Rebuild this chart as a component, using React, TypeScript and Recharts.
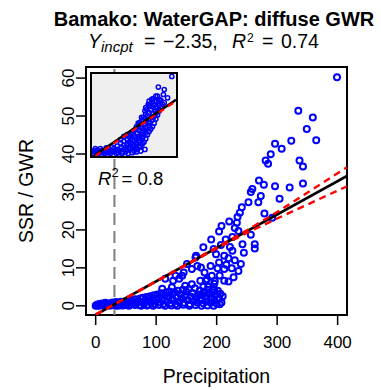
import React from "react";
import { ScatterChart, Scatter, XAxis, YAxis, ReferenceLine, ReferenceArea, Label } from "recharts";

const xTicks = [0, 100, 200, 300, 400];
const yTicks = [0, 10, 20, 30, 40, 50, 60];
const xDomain = [-16, 415.5];
const yDomain = [-2.42, 62.92];

// dry-season band: precipitation vs. SSR/GWR, near zero
const lowBand: [number, number][] = [
  [0, 0], [2, 0.3], [4, 0.1], [6, 0.5], [8, 0.2], [10, 0.6], [12, 0.1], [14, 0.4], [16, 0.8], [18, 0.2],
  [20, 0.5], [22, 0.1], [24, 0.7], [26, 0.3], [28, 0.9], [30, 0.2], [32, 0.6], [34, 1.0], [36, 0.3], [38, 0.8],
  [40, 0.1], [42, 1.1], [44, 0.5], [46, 0.9], [48, 0.2], [50, 1.3], [52, 0.6], [54, 1.0], [56, 0.3], [58, 1.5],
  [60, 0.8], [62, 1.2], [64, 0.4], [66, 1.7], [68, 0.9], [70, 1.4], [72, 0.2], [74, 1.9], [76, 1.0], [78, 2.1],
  [80, 0.6], [82, 1.6], [84, 2.3], [86, 0.3], [88, 1.2], [90, 2.5], [92, 0.8], [94, 1.9], [96, 2.8], [98, 0.4],
  [100, 1.5], [102, 3.0], [104, 2.2], [106, 0.9], [108, 3.3], [110, 1.8], [112, 0.5], [114, 2.7], [116, 3.5], [118, 1.2],
  [120, 2.3], [122, 3.8], [124, 0.7], [126, 2.9], [128, 1.6], [130, 3.6], [132, 0.4], [134, 2.2], [136, 4.0], [138, 1.1],
  [140, 3.1], [142, 2.0], [144, 4.2], [146, 0.8], [148, 2.6], [150, 3.7], [152, 1.5], [154, 4.4], [156, 0.5], [158, 2.4],
  [160, 3.4], [162, 1.3], [164, 4.6], [166, 2.1], [168, 0.9], [170, 3.0], [172, 4.0], [174, 1.8], [176, 2.8], [178, 0.7],
  [180, 3.8], [182, 2.4], [184, 1.2], [186, 4.2], [188, 3.1], [190, 0.8], [192, 2.2], [194, 3.6], [196, 1.5], [198, 2.8],
  [200, 0.6], [202, 4.0], [204, 1.9], [206, 3.2], [208, 0.9], [210, 2.5],
  [5, 0], [15, 0], [25, 0.1], [35, 0], [45, 0.1], [55, 0], [65, 0.2], [75, 0], [85, 0.1], [95, 0],
  [105, 0.2], [115, 0], [125, 0.1], [135, 0], [145, 0.3], [155, 0], [165, 0.2], [175, 0], [185, 0.1], [195, 0], [205, 0.4],
];

// wet-season points that rise with precipitation
const highBand: [number, number][] = [
  [110, 4.5], [115, 7.1], [126, 4.9], [128, 6.6], [132, 7.9], [138, 7.1], [143, 7.9], [145.5, 8.8], [148, 5.3], [151, 11],
  [159, 9.7], [159, 5.7], [165, 12.7], [166, 13.2], [168, 10.5], [173, 6.6], [174, 10.1], [178, 15.4], [178, 5], [178, 3.4],
  [180, 8.8], [182, 6.6], [184, 7], [186, 5], [190, 10.5], [191, 17.5], [192, 7.9], [193, 4.5], [195, 15], [196, 5.8],
  [196, 4.2], [197, 6.5], [199, 13.6], [201.5, 9.9], [204, 19.6], [204, 11.4], [205, 8], [207, 16], [208, 21], [212.5, 13.2],
  [212.5, 9.7], [212.5, 6.6], [215, 17.5], [216, 10.8], [219.6, 12.5], [219.6, 6.4], [220.8, 22.2], [222, 15.5], [225, 9.9], [226, 18.1],
  [226, 14.5], [228, 7.5], [230, 12], [230, 20.5], [233.4, 21.9], [234.5, 23.4], [236, 19.7], [236, 9.2], [238.4, 24.5], [240, 11],
  [241.6, 26], [242.7, 16.2], [245, 14], [252.6, 27.3], [256.5, 30], [256.5, 18.7], [259, 30.8], [263, 16.2], [263, 15.1], [269, 27.3],
  [270, 33], [273, 28.9], [278, 31.9], [279, 24.3], [281, 38.3], [285, 37.4], [289.4, 39.9], [292, 23.2], [296.5, 31.5], [296.5, 42.7],
  [304, 28.2], [307.5, 41.4], [320.7, 31.2], [323.4, 43.5], [335, 51.4], [337, 38.3], [342.7, 36.7], [342.7, 32.2], [349, 46.6], [359, 49.6],
  [364.6, 43.6], [399, 60.2],
];

// fitted line (Y intercept -2.35) and the two dashed red fits
const fitLine: [number, number][] = [[0, -2.35], [415.5, 34.2]];
const redUpper: [number, number][] = [[0, -2.3], [100, 6.5], [200, 15.4], [250, 19.9], [300, 24.7], [415.5, 36.5]];
const redLower: [number, number][] = [[0, -2.4], [100, 6.4], [200, 15.1], [250, 19.2], [300, 23.0], [415.5, 31.5]];
const thresholdPrecip = 31;

// inset panel (scaled 0..100 on both axes)
const insetPoints: [number, number][] = [
  [1, 6], [3, 5], [5, 7], [7, 5], [9, 6], [11, 4], [12, 7], [14, 5], [16, 6], [18, 4], [19, 8], [21, 5], [23, 7], [25, 5],
  [26, 9], [28, 6], [30, 8], [31, 4], [33, 7], [35, 10], [36, 5], [38, 8], [40, 11], [40, 5], [42, 7], [2, 3], [8, 3],
  [15, 3], [22, 3], [29, 3], [36, 3], [43, 3], [48, 4], [53, 5], [58, 6], [63, 8], [4, 9], [10, 9], [17, 10], [24, 11],
  [30, 12], [34, 16], [34, 20], [38, 13], [38, 18], [38, 24], [42, 14], [42, 20], [42, 26], [44, 10], [44, 17], [44, 24],
  [46, 9], [46, 15], [46, 21], [46, 27], [48, 12], [48, 19], [48, 29], [50, 6], [50, 12], [50, 18], [50, 25], [50, 31],
  [52, 10], [52, 16], [52, 23], [52, 33], [54, 8], [53, 14], [55, 21], [54, 28], [53, 36], [55, 40], [56, 11], [56, 17],
  [56, 24], [56, 31], [56, 38], [58, 12], [57, 19], [59, 26], [58, 34], [57, 41], [59, 47], [60, 15], [60, 22], [60, 29],
  [60, 36], [60, 44], [62, 17], [61, 24], [63, 31], [62, 39], [61, 47], [63, 55], [64, 21], [64, 28], [64, 35], [64, 43],
  [64, 51], [64, 59], [66, 26], [65, 33], [67, 41], [66, 49], [65, 57], [67, 63], [68, 30], [68, 37], [68, 45], [68, 53],
  [68, 61], [68, 67], [70, 33], [69, 40], [71, 48], [70, 56], [69, 63], [71, 69], [72, 36], [72, 44], [72, 52], [72, 60],
  [72, 67], [74, 40], [73, 47], [75, 55], [74, 62], [73, 70], [76, 45], [76, 52], [76, 60], [76, 67], [76, 73],
  [78, 50], [77, 58], [79, 66], [78, 73], [80, 55], [80, 62], [80, 69], [82, 60], [82, 68], [84, 63], [86, 65],
  [79, 84], [86, 81], [85, 75], [90, 71], [95, 97],
];
const insetFit: [number, number][] = [[2, 0], [100, 68.6]];
const insetRed: [number, number][] = [[4, 0], [100, 67.2]];

const toXY = (pts: [number, number][]) => pts.map(([x, y]) => ({ x, y }));

const FONT = "'Liberation Sans', Arial, Helvetica, sans-serif";

const XTick = (props: any) => (
  <text x={props.x} y={348} textAnchor="middle" fontSize={17} fontFamily={FONT} fill="#000">
    {props.payload.value}
  </text>
);

const YTick = (props: any) => (
  <text
    x={74}
    y={props.y}
    transform={`rotate(-90, 74, ${props.y})`}
    textAnchor="middle"
    fontSize={17}
    fontFamily={FONT}
    fill="#000"
  >
    {props.payload.value}
  </text>
);

const ring = (r: number, w: number) => (p: any) => (
  <circle cx={p.cx} cy={p.cy} r={r} fill="none" stroke="#0000ff" strokeWidth={w} />
);
const noDot = () => <g />;

export default function App() {
  return (
    <div style={{ position: "relative", width: 381, height: 390, background: "#fff", fontFamily: FONT }}>
      <style>{"body{margin:0}"}</style>
      <ScatterChart width={381} height={390} margin={{ top: 67, right: 34, bottom: 0, left: 0 }}>
        <XAxis
          type="number"
          dataKey="x"
          domain={xDomain}
          ticks={xTicks}
          allowDataOverflow
          axisLine={false}
          tickSize={10}
          tickLine={{ stroke: "#000", strokeWidth: 1.5 }}
          tick={<XTick />}
          height={75}
        >
          <Label
            content={() => (
              <text x={216.5} y={383} textAnchor="middle" fontSize={19.5} fontFamily={FONT} fill="#000">
                Precipitation
              </text>
            )}
          />
        </XAxis>
        <YAxis
          type="number"
          dataKey="y"
          domain={yDomain}
          ticks={yTicks}
          allowDataOverflow
          axisLine={false}
          tickSize={10}
          tickLine={{ stroke: "#000", strokeWidth: 1.5 }}
          tick={<YTick />}
          width={86}
        >
          <Label
            content={() => (
              <text
                x={33}
                y={191}
                transform="rotate(-90, 33, 191)"
                textAnchor="middle"
                fontSize={19.5}
                fontFamily={FONT}
                fill="#000"
              >
                SSR / GWR
              </text>
            )}
          />
        </YAxis>
        <Scatter data={toXY(lowBand)} shape={ring(3, 2)} isAnimationActive={false} />
        <Scatter data={toXY(highBand)} shape={ring(3, 2)} isAnimationActive={false} />
        <ReferenceLine x={thresholdPrecip} stroke="#7f7f7f" strokeWidth={2} strokeDasharray="12 6" />
        <Scatter
          data={toXY(fitLine)}
          line={{ stroke: "#000", strokeWidth: 2.6 }}
          shape={noDot}
          isAnimationActive={false}
        />
        <Scatter
          data={toXY(redUpper)}
          line={{ stroke: "#ff0000", strokeWidth: 2.4, strokeDasharray: "7 5" }}
          shape={noDot}
          isAnimationActive={false}
        />
        <Scatter
          data={toXY(redLower)}
          line={{ stroke: "#ff0000", strokeWidth: 2.4, strokeDasharray: "7 5" }}
          shape={noDot}
          isAnimationActive={false}
        />
        <ReferenceArea
          x1={xDomain[0]}
          x2={xDomain[1]}
          y1={yDomain[0]}
          y2={yDomain[1]}
          fill="none"
          fillOpacity={0}
          stroke="#000"
          strokeWidth={2}
        />
      </ScatterChart>

      <div
        style={{
          position: "absolute",
          left: 90,
          top: 72,
          width: 88,
          height: 86,
          boxSizing: "border-box",
          border: "2px solid #000",
          background: "#efefef",
        }}
      >
        <ScatterChart width={84} height={82} margin={{ top: 0, right: 0, bottom: 0, left: 0 }}>
          <XAxis type="number" dataKey="x" domain={[0, 100]} allowDataOverflow hide />
          <YAxis type="number" dataKey="y" domain={[0, 100]} allowDataOverflow hide />
          <Scatter data={toXY(insetPoints)} shape={ring(2.1, 1.5)} isAnimationActive={false} />
          <Scatter
            data={toXY(insetFit)}
            line={{ stroke: "#000", strokeWidth: 2.4 }}
            shape={noDot}
            isAnimationActive={false}
          />
          <Scatter
            data={toXY(insetRed)}
            line={{ stroke: "#ff0000", strokeWidth: 2.4, strokeDasharray: "6 5" }}
            shape={noDot}
            isAnimationActive={false}
          />
        </ScatterChart>
      </div>

      <svg
        width={381}
        height={390}
        style={{ position: "absolute", left: 0, top: 0, pointerEvents: "none" }}
      >
        <text x={214} y={26} textAnchor="middle" fontSize={20} fontWeight="bold" fontFamily={FONT} fill="#000">
          Bamako: WaterGAP: diffuse GWR
        </text>
        <g fontFamily={FONT} fill="#000">
          <text x={88} y={48} fontSize={19.5} fontStyle="italic">Y</text>
          <text x={101} y={52} fontSize={15} fontStyle="italic">incpt</text>
          <text x={144} y={48} fontSize={19.5}>=</text>
          <text x={163} y={48} fontSize={19.5}>−2.35,</text>
          <text x={232} y={48} fontSize={19.5} fontStyle="italic">R</text>
          <text x={247} y={42} fontSize={12}>2</text>
          <text x={262} y={48} fontSize={19.5}>=</text>
          <text x={281} y={48} fontSize={19.5}>0.74</text>
        </g>
        <text x={98} y={185} fontSize={18.5} fontFamily={FONT} fill="#000">
          <tspan fontStyle="italic">R</tspan>
          <tspan fontSize={13} dy={-8}>2</tspan>
          <tspan dy={8} dx={3}>= 0.8</tspan>
        </text>
      </svg>
    </div>
  );
}
